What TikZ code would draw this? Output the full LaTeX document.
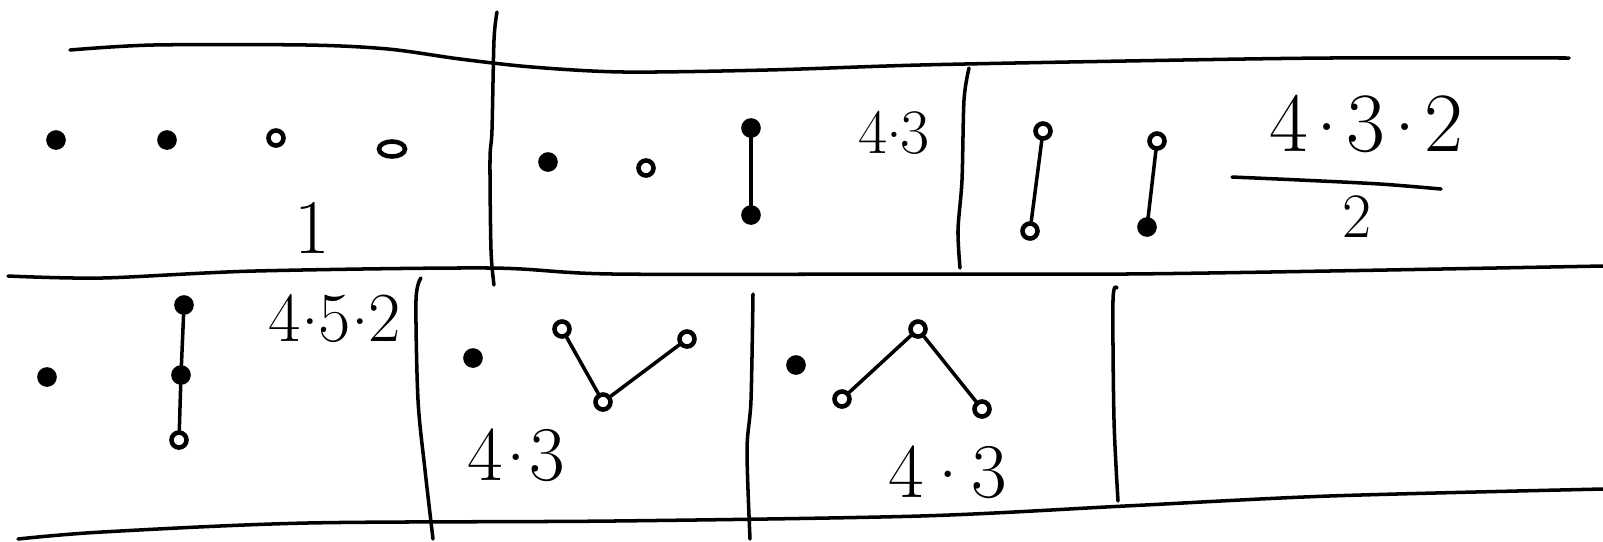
\documentclass[tikz,border=0pt]{standalone}
\usetikzlibrary{shapes.geometric}
\newcommand\mydot[1]{\kern#1\raisebox{0.25em}{.}\kern#1}
\begin{document}
\begin{tikzpicture}[x=0.01cm,y=-0.01cm,
  pen/.style={line width=1pt, line cap=round, line join=round},
  dot/.style={circle, draw, line width=1.3pt, inner sep=0pt, minimum size=0.15cm},
  fdot/.style={dot, fill=black},
  edot/.style={ellipse, draw, line width=1.3pt, inner sep=0pt, minimum width=0.26cm, minimum height=0.15cm},
  lbl/.style={inner sep=0pt},
  edge/.style={pen}]
\useasboundingbox (0,0) rectangle (1603,541);
% frame lines
\draw[pen] plot[smooth] coordinates {(70,50) (153,45) (307,45) (388,49) (460,59) (532,67) (624,72) (767,70) (920,65) (1125,61) (1329,58) (1569,58)};
\draw[pen] plot[smooth] coordinates {(8,276) (102,278) (255,271) (490,268) (613,274) (920,274) (1125,274) (1329,271) (1603,266)};
\draw[pen] plot[smooth] coordinates {(18,539) (102,532) (307,523) (613,521) (920,516) (1125,506) (1329,496) (1603,489)};
\draw[pen] plot[smooth] coordinates {(497,12) (494,40) (492,130) (490,160) (491,250) (494,285)};
\draw[pen] plot[smooth] coordinates {(969,68) (964,100) (962,180) (958,230) (960,268)};
\draw[pen] plot[smooth] coordinates {(421,278) (416,300) (418,400) (425,470) (433,539)};
\draw[pen] plot[smooth] coordinates {(753,294) (751,400) (747,450) (750,539)};
\draw[pen] plot[smooth] coordinates {(1117,288) (1113,300) (1114,420) (1118,501)};
% panel 1
\node[fdot] (a1) at (56,140) {};
\node[fdot] (a2) at (167,140) {};
\node[dot] (a3) at (276,138) {};
\node[edot] (a4) at (392,149) {};
\node[lbl, font=\fontsize{22}{26}\selectfont] (l1) at (312,228) {1};
% panel 2
\node[fdot] (b1) at (548,162) {};
\node[dot] (b2) at (646,168) {};
\node[fdot] (b3) at (751,128) {};
\node[fdot] (b4) at (751,215) {};
\draw[edge] (b3) -- (b4);
\node[lbl, font=\fontsize{18}{22}\selectfont] (l2) at (894,133) {4\mydot{-0.5pt}3};
% panel 3
\node[dot] (c1) at (1043,131) {};
\node[dot] (c2) at (1030,231) {};
\draw[edge] (c1) -- (c2);
\node[dot] (c3) at (1157,141) {};
\node[fdot] (c4) at (1147,227) {};
\draw[edge] (c3) -- (c4);
\node[lbl, font=\fontsize{24}{28}\selectfont] (l3n) at (1366,124) {4\mydot{2.5pt}3\mydot{2.5pt}2};
\coordinate (fb1) at (1232,177);
\coordinate (fb2) at (1441,189);
\draw[pen] plot[smooth] coordinates {(fb1) (1300,180) (1380,184) (fb2)};
\node[lbl, font=\fontsize{18}{22}\selectfont] (l3d) at (1357,217) {2};
% bottom panel 1
\node[fdot] (d1) at (47,377) {};
\node[fdot] (d2) at (184,305) {};
\node[fdot] (d3) at (181,375) {};
\node[dot] (d4) at (179,440) {};
\draw[edge] (d2) -- (d3);
\draw[edge] (d3) -- (d4);
\node[lbl, font=\fontsize{20}{24}\selectfont] (l4) at (335,319) {4\mydot{0pt}5\mydot{0pt}2};
% bottom panel 2
\node[fdot] (e1) at (473,358) {};
\node[dot] (e2) at (562,329) {};
\node[dot] (e3) at (603,402) {};
\node[dot] (e4) at (687,339) {};
\draw[edge] (e2) -- (e3);
\draw[edge] (e3) -- (e4);
\node[lbl, font=\fontsize{22}{26}\selectfont] (l5) at (516,455) {4\mydot{1pt}3};
% bottom panel 3
\node[fdot] (f1) at (796,365) {};
\node[dot] (f2) at (918,329) {};
\node[dot] (f3) at (842,399) {};
\node[dot] (f4) at (982,409) {};
\draw[edge] (f2) -- (f3);
\draw[edge] (f2) -- (f4);
\node[lbl, font=\fontsize{22}{26}\selectfont] (l6) at (948,472) {4\mydot{4pt}3};
\end{tikzpicture}
\end{document}
